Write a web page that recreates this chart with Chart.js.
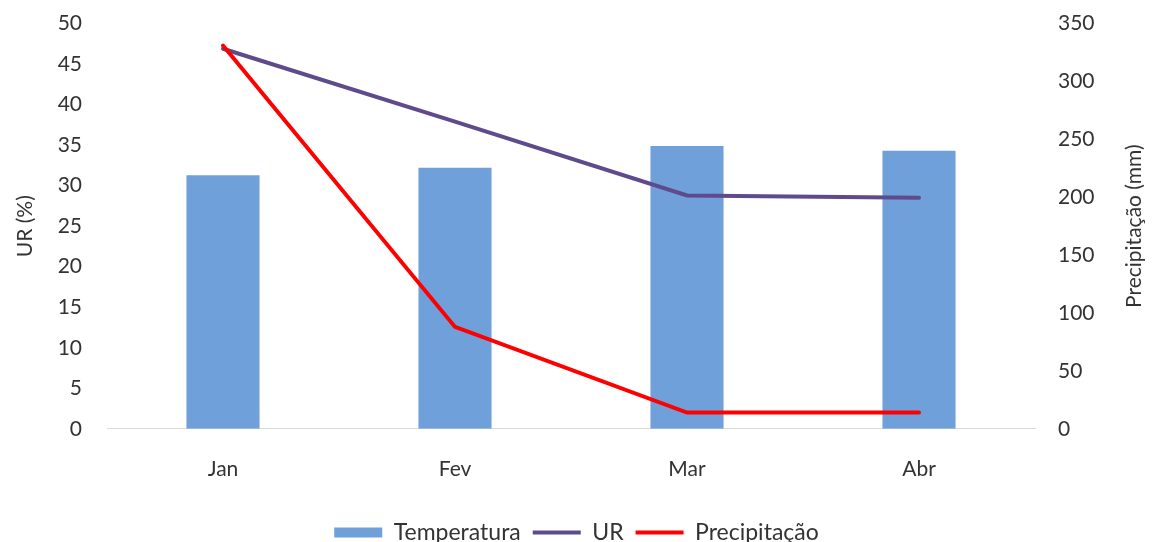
<!DOCTYPE html>
<html lang="pt">
<head>
    <meta charset="UTF-8">
    <title>Temperatura, UR e Precipitação</title>
    <script src="https://cdn.jsdelivr.net/npm/chart.js"></script>
    <style>
        html, body { margin: 0; padding: 0; background: #fff; overflow: hidden; }
        #wrap { width: 1153px; height: 542px; overflow: hidden; position: relative; }
        #chart { position: absolute; left: 0; top: -14px; }
    </style>
</head>
<body>
    <div id="wrap">
        <canvas id="chart" width="1153" height="568"></canvas>
    </div>

    <script>
        // chart data
        const months = ['Jan', 'Fev', 'Mar', 'Abr'];
        const temperatura = [31.3, 32.2, 34.9, 34.3];
        const ur = [46.9, 37.9, 28.8, 28.5];
        const precipitacao = [331, 88, 14, 14];

        const leftTicks = [0, 5, 10, 15, 20, 25, 30, 35, 40, 45, 50];
        const rightTicks = [0, 50, 100, 150, 200, 250, 300, 350];

        const FONT = 'Lato, "Open Sans", sans-serif';
        const textColor = '#333333';
        const barColor = '#6fa0da';
        const urColor = '#5f4b8b';
        const precColor = '#ff0000';

        // right axis title reads bottom-to-top like the left one
        const rightTitle = {
            id: 'rightTitle',
            afterDraw(chart) {
                const ctx = chart.ctx;
                const area = chart.chartArea;
                ctx.save();
                ctx.translate(1134, (area.top + area.bottom) / 2);
                ctx.rotate(-Math.PI / 2);
                ctx.font = '21px ' + FONT;
                ctx.fillStyle = textColor;
                ctx.textAlign = 'center';
                ctx.textBaseline = 'middle';
                ctx.fillText('Precipitação (mm)', 0, 0);
                ctx.restore();
            }
        };

        const ctx = document.getElementById('chart').getContext('2d');
        new Chart(ctx, {
            data: {
                labels: months,
                datasets: [
                    {
                        type: 'bar',
                        label: 'Temperatura',
                        data: temperatura,
                        backgroundColor: barColor,
                        borderWidth: 0,
                        barPercentage: 1,
                        categoryPercentage: 0.315,
                        yAxisID: 'y',
                        order: 3
                    },
                    {
                        type: 'line',
                        label: 'UR',
                        data: ur,
                        borderColor: urColor,
                        borderWidth: 4,
                        borderCapStyle: 'round',
                        pointRadius: 0,
                        yAxisID: 'y',
                        order: 2
                    },
                    {
                        type: 'line',
                        label: 'Precipitação',
                        data: precipitacao,
                        borderColor: precColor,
                        borderWidth: 4,
                        borderCapStyle: 'round',
                        pointRadius: 0,
                        yAxisID: 'y1',
                        order: 1
                    }
                ]
            },
            options: {
                responsive: false,
                animation: false,
                layout: { padding: { top: 8, left: 0, right: 0, bottom: 0 } },
                plugins: {
                    tooltip: { enabled: false },
                    legend: {
                        position: 'bottom',
                        labels: {
                            font: { family: FONT, size: 23 },
                            color: textColor,
                            usePointStyle: true,
                            pointStyleWidth: 48,
                            boxHeight: 10,
                            padding: 12,
                            generateLabels(chart) {
                                return chart.data.datasets.map((ds, i) => ({
                                    text: ds.label,
                                    datasetIndex: i,
                                    fillStyle: ds.type === 'bar' ? ds.backgroundColor : ds.borderColor,
                                    strokeStyle: ds.type === 'bar' ? ds.backgroundColor : ds.borderColor,
                                    lineWidth: ds.type === 'bar' ? 0 : 4,
                                    pointStyle: ds.type === 'bar' ? 'rect' : 'line',
                                    fontColor: textColor
                                }));
                            }
                        }
                    }
                },
                scales: {
                    x: {
                        grid: { display: false },
                        border: { display: true, color: '#d9d9d9', width: 1 },
                        afterFit(scale) { scale.height += 7; },
                        ticks: {
                            font: { family: FONT, size: 21 },
                            color: textColor,
                            padding: 20
                        }
                    },
                    y: {
                        position: 'left',
                        min: 0,
                        max: 50,
                        afterBuildTicks(scale) {
                            scale.ticks = leftTicks.map(v => ({ value: v }));
                        },
                        afterFit(scale) { scale.width = 107; },
                        grid: { display: false, drawTicks: false },
                        border: { display: false },
                        ticks: {
                            font: { family: FONT, size: 21 },
                            color: textColor,
                            padding: 25
                        },
                        title: {
                            display: true,
                            text: 'UR (%)',
                            font: { family: FONT, size: 21 },
                            color: textColor,
                            padding: { top: 13, bottom: 0 }
                        }
                    },
                    y1: {
                        position: 'right',
                        min: 0,
                        max: 350,
                        afterBuildTicks(scale) {
                            scale.ticks = rightTicks.map(v => ({ value: v }));
                        },
                        afterFit(scale) { scale.width = 118; },
                        grid: { display: false, drawTicks: false },
                        border: { display: false },
                        ticks: {
                            font: { family: FONT, size: 21 },
                            color: textColor,
                            padding: 23
                        }
                    }
                }
            },
            plugins: [rightTitle]
        });
    </script>
</body>
</html>
